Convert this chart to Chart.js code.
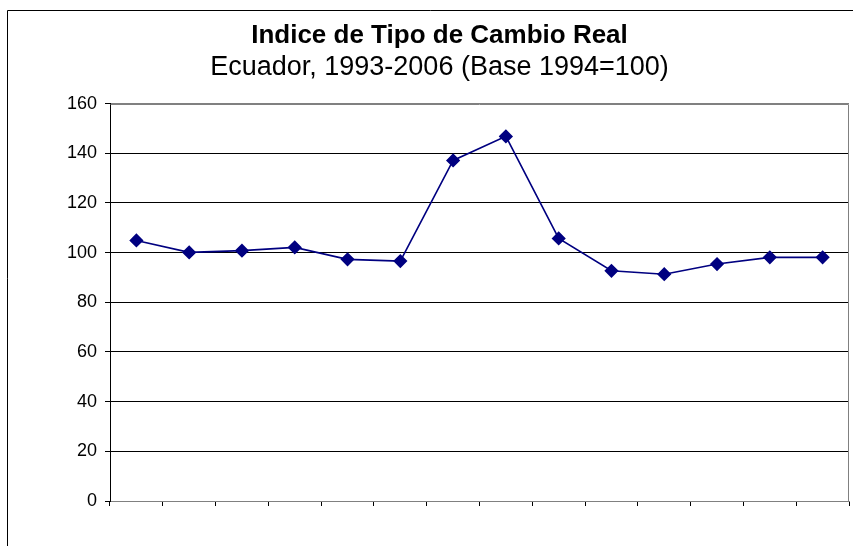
<!DOCTYPE html>
<html>
<head>
<meta charset="utf-8">
<script src="https://cdn.jsdelivr.net/npm/chart.js@4/dist/chart.umd.min.js"></script>
<style>
  html, body { margin: 0; padding: 0; background: #fff; overflow: hidden; }
  #wrap { width: 853px; height: 546px; }
</style>
</head>
<body>
<div id="wrap"><canvas id="tcr"></canvas></div>
<script>
// Indice de Tipo de Cambio Real, Ecuador 1993-2006 (Base 1994=100)
const years = ['1993', '1994', '1995', '1996', '1997', '1998', '1999',
               '2000', '2001', '2002', '2003', '2004', '2005', '2006'];
const itcr = [104.9, 100.1, 100.8, 102.1, 97.3, 96.6, 137.1,
              146.8, 105.7, 92.7, 91.3, 95.4, 98.1, 98.1];
const yTicks = [0, 20, 40, 60, 80, 100, 120, 140, 160];

const FONT = '"Liberation Sans", Arial, sans-serif';
const PAD_LEFT = 30;

// outer chart border (top + left only, the rest is cut off) and the grey plot frame
const frame = {
  id: 'frame',
  beforeDraw(chart) {
    const c = chart.ctx;
    c.save();
    c.strokeStyle = '#000';
    c.lineWidth = 1;
    c.beginPath();
    c.moveTo(7.5, 546);
    c.lineTo(7.5, 10.5);
    c.lineTo(853, 10.5);
    c.stroke();
    c.restore();
  },
  afterDatasetsDraw(chart) {
    const a = chart.chartArea;
    const c = chart.ctx;
    c.save();
    c.strokeStyle = '#808080';
    c.lineWidth = 1;
    c.beginPath();
    c.moveTo(Math.round(a.left) + 0.5, Math.round(a.top) + 0.5);
    c.lineTo(Math.round(a.right) - 0.5, Math.round(a.top) + 0.5);
    c.lineTo(Math.round(a.right) - 0.5, Math.round(a.bottom));
    c.stroke();
    c.restore();
  }
};

new Chart(document.getElementById('tcr'), {
  type: 'line',
  data: {
    labels: years,
    datasets: [{
      data: itcr,
      borderColor: '#000080',
      backgroundColor: '#000080',
      borderWidth: 1.6,
      pointStyle: 'rectRot',
      pointRadius: 6,
      pointHoverRadius: 6,
      tension: 0
    }]
  },
  options: {
    responsive: true,
    maintainAspectRatio: false,
    animation: false,
    layout: { autoPadding: false, padding: { left: PAD_LEFT, right: 4, top: 0, bottom: 0 } },
    plugins: {
      legend: { display: false },
      tooltip: { enabled: false },
      title: {
        display: true,
        text: 'Indice de Tipo de Cambio Real',
        color: '#000',
        font: { family: FONT, size: 26, weight: 'bold', lineHeight: 1.2 },
        padding: { top: 20, bottom: 0 }
      },
      subtitle: {
        display: true,
        text: 'Ecuador, 1993-2006 (Base 1994=100)',
        color: '#000',
        font: { family: FONT, size: 27, weight: 'normal', lineHeight: 1.2 },
        padding: { top: 0, bottom: 20 }
      }
    },
    scales: {
      x: {
        offset: true,
        grid: {
          offset: true,
          drawOnChartArea: false,
          drawTicks: true,
          tickLength: 5,
          color: '#000'
        },
        border: { color: '#808080', width: 1 },
        ticks: { display: false },
        afterFit(s) { s.height = 45; }
      },
      y: {
        min: 0,
        max: 160,
        afterBuildTicks(s) { s.ticks = yTicks.map(v => ({ value: v })); },
        grid: {
          color: ctx => (ctx.tick && ctx.tick.value === 160 ? '#808080' : '#000'),
          tickLength: 5,
          tickColor: '#000'
        },
        border: { color: '#000', width: 1 },
        ticks: {
          color: '#000',
          padding: 8,
          font: { family: FONT, size: 18 }
        },
        afterFit(s) { s.width = 110 - PAD_LEFT; }
      }
    }
  },
  plugins: [frame]
});
</script>
</body>
</html>
